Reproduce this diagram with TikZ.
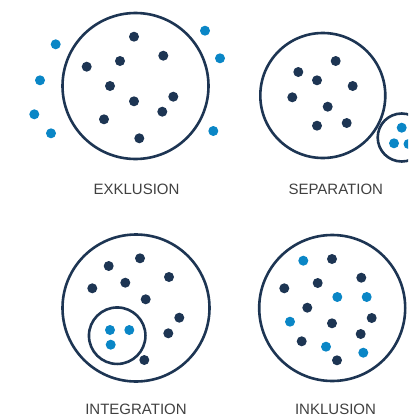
\documentclass[tikz,border=0pt]{standalone}
\usepackage{fontspec}
\setmainfont{Liberation Sans}
\definecolor{navy}{HTML}{1D3553}
\definecolor{cyan}{HTML}{0A86C6}
\definecolor{labelgray}{HTML}{404040}
\begin{document}
\begin{tikzpicture}[x=1pt,y=-1pt,
  ring/.style={draw=navy,line width=2.6pt,circle,inner sep=0pt},
  dk/.style={fill=navy,draw=none,circle,inner sep=0pt,minimum size=10pt},
  bl/.style={fill=cyan,draw=none,circle,inner sep=0pt,minimum size=10pt},
  caption/.style={text=labelgray,font=\fontsize{15}{18}\selectfont,anchor=base,inner sep=0pt}]
\useasboundingbox (0,0) rectangle (408,415);
\clip (0,0) rectangle (408,415);

% Exklusion
\node[ring,minimum size=146pt] (exring) at (135.5,86) {};
\foreach \p [count=\i] in {(134,36.7),(163.3,55.7),(120,61),(86.7,66.7),(110,86),(173.3,96.7),(134,101.3),(162.3,111.7),(104,119.3),(139.3,138.3)}
  \node[dk] (exd\i) at \p {};
\foreach \p [count=\i] in {(55.7,44.3),(205,30.7),(220,58.3),(40,80.3),(34.3,114.3),(51,133.3),(213.3,131)}
  \node[bl] (exb\i) at \p {};
\node[caption] (exlabel) at (136.5,194) {EXKLUSION};

% Separation
\node[ring,minimum size=125pt] (sepring) at (322.8,95.5) {};
\foreach \p [count=\i] in {(335.7,61),(298.3,72),(317,80.3),(352.7,86),(292.3,97.3),(327.7,106.7),(317,125.7),(346.7,123)}
  \node[dk] (sepd\i) at \p {};
\node[ring,minimum size=48pt] (sepsmall) at (401.7,137.5) {};
\foreach \p [count=\i] in {(401.7,127.7),(394,143.3),(408.5,144)}
  \node[bl] (sepb\i) at \p {};
\node[caption] (seplabel) at (335.8,194) {SEPARATION};

% Integration
\node[ring,minimum size=147pt] (inring) at (136,308) {};
\foreach \p [count=\i] in {(140,258.3),(108.7,266),(169,277),(125.3,282.7),(92.3,288.3),(145.7,299.3),(179.3,317.7),(168.3,333.3),(144.3,360)}
  \node[dk] (ind\i) at \p {};
\node[ring,minimum size=56.5pt] (insmall) at (117.2,335.7) {};
\foreach \p [count=\i] in {(110,330),(129.3,330),(110.7,344.7)}
  \node[bl] (inb\i) at \p {};
\node[caption] (inlabel) at (136,414) {INTEGRATION};

% Inklusion
\node[ring,minimum size=146pt] (inkring) at (332.2,308) {};
\foreach \p [count=\i] in {(332,259),(361.3,277.7),(284.3,288.3),(317.7,283),(307.3,307.7),(332,323.3),(371.7,318),(360.7,334),(301.7,341.3),(337,360.3)}
  \node[dk] (inkd\i) at \p {};
\foreach \p [count=\i] in {(303.3,260.7),(337.3,297),(366.7,297),(290,321.7),(326,346.7),(363.3,352.7)}
  \node[bl] (inkb\i) at \p {};
\node[caption] (inklabel) at (335.5,414) {INKLUSION};
\end{tikzpicture}
\end{document}
